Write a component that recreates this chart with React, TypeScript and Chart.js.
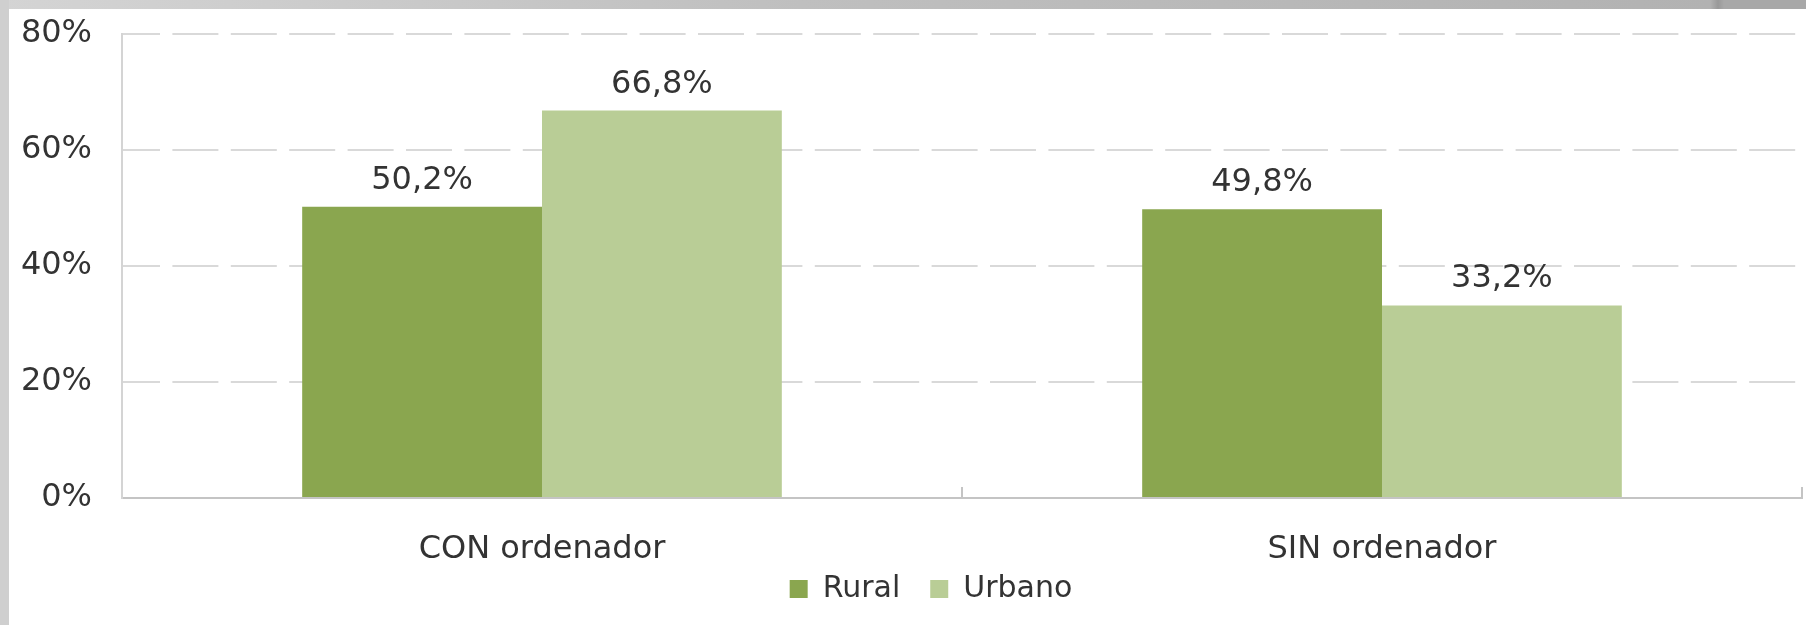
import React, { useEffect, useRef } from "react";
import { Chart, registerables } from "chart.js";

Chart.register(...registerables);

const categories = ["CON ordenador", "SIN ordenador"];
const seriesNames = ["Rural", "Urbano"];
const ruralValues = [50.2, 49.8];
const urbanoValues = [66.8, 33.2];
const yMin = 0;
const yMax = 80;
const yStep = 20;

const ruralColor = "#8aa64f";
const urbanoColor = "#b9cd96";
const textColor = "#333333";
const FONT = "'DejaVu Sans', Verdana, sans-serif";

const fmtValue = (v: number) => v.toFixed(1).replace(".", ",") + "%";

const valueLabelPlugin = {
  id: "valueLabels",
  afterDatasetsDraw(chart: any) {
    const ctx = chart.ctx;
    ctx.save();
    ctx.font = `32px ${FONT}`;
    ctx.fillStyle = textColor;
    ctx.textAlign = "center";
    ctx.textBaseline = "alphabetic";
    chart.data.datasets.forEach((ds: any, di: number) => {
      const meta = chart.getDatasetMeta(di);
      meta.data.forEach((bar: any, i: number) => {
        ctx.fillText(fmtValue(ds.data[i]), bar.x, bar.y - 18);
      });
    });
    ctx.restore();
  },
};

// Widen the label clipping areas of the axes after layout so tick labels are not cut.
const unclipPlugin = {
  id: "unclipAxes",
  afterLayout(chart: any) {
    if (chart.scales.y) chart.scales.y.left = 0;
    if (chart.scales.x) chart.scales.x.bottom = chart.height;
  },
};

export default function App() {
  const canvasRef = useRef<HTMLCanvasElement | null>(null);

  useEffect(() => {
    if (!canvasRef.current) return;
    const chart = new Chart(canvasRef.current, {
      type: "bar",
      data: {
        labels: categories,
        datasets: [
          {
            label: seriesNames[0],
            data: ruralValues,
            backgroundColor: ruralColor,
            borderWidth: 0,
          },
          {
            label: seriesNames[1],
            data: urbanoValues,
            backgroundColor: urbanoColor,
            borderWidth: 0,
          },
        ],
      },
      options: {
        animation: false,
        responsive: false,
        devicePixelRatio: 1,
        datasets: {
          bar: { categoryPercentage: 0.571, barPercentage: 1 },
        },
        layout: { padding: { left: 51, right: 4, top: 25, bottom: 11 } },
        plugins: {
          tooltip: { enabled: false },
          legend: {
            position: "bottom",
            labels: {
              boxWidth: 18,
              boxHeight: 18,
              padding: 30,
              color: textColor,
              font: { family: FONT, size: 30 },
            },
          },
        },
        scales: {
          x: {
            offset: true,
            afterFit: (scale: any) => {
              scale.height = 46;
              scale.paddingLeft = 0;
              scale.paddingRight = 0;
            },
            grid: {
              display: true,
              drawOnChartArea: false,
              drawTicks: true,
              offset: true,
              tickLength: -11,
              color: "#c4c4c4",
              lineWidth: 2,
            },
            border: { display: true, color: "#c4c4c4", width: 2 },
            ticks: {
              color: textColor,
              padding: 43,
              font: { family: FONT, size: 32 },
            },
          },
          y: {
            min: yMin,
            max: yMax,
            afterFit: (scale: any) => {
              scale.width = 62;
              scale.paddingTop = 0;
              scale.paddingBottom = 0;
            },
            ticks: {
              stepSize: yStep,
              color: textColor,
              padding: 30,
              font: { family: FONT, size: 32 },
              callback: (v: any) => `${v}%`,
            },
            grid: {
              display: true,
              drawTicks: false,
              color: "#d9d9d9",
              lineWidth: 2,
            },
            border: {
              display: true,
              color: "#d4d4d4",
              width: 2,
              dash: [46, 12.4],
              dashOffset: 9,
            },
          },
        },
      },
      plugins: [valueLabelPlugin, unclipPlugin],
    });
    return () => chart.destroy();
  }, []);

  return (
    <div
      style={{
        position: "fixed",
        left: 0,
        top: 0,
        width: 1806,
        height: 625,
        background: "#ffffff",
        overflow: "hidden",
      }}
    >
      <div
        style={{
          position: "absolute",
          left: 0,
          top: 0,
          width: 1806,
          height: 9,
          background:
            "linear-gradient(to right, #d4d4d4 0px, #bfbfbf 800px, #b2b2b2 1710px, #999999 1718px, #a8a8a8 1724px, #a8a8a8 1806px)",
        }}
      />
      <div
        style={{
          position: "absolute",
          left: 0,
          top: 0,
          width: 9,
          height: 625,
          background: "#cfcfcf",
        }}
      />
      <canvas
        ref={canvasRef}
        width={1797}
        height={616}
        style={{ position: "absolute", left: 9, top: 9, width: 1797, height: 616 }}
      />
    </div>
  );
}
